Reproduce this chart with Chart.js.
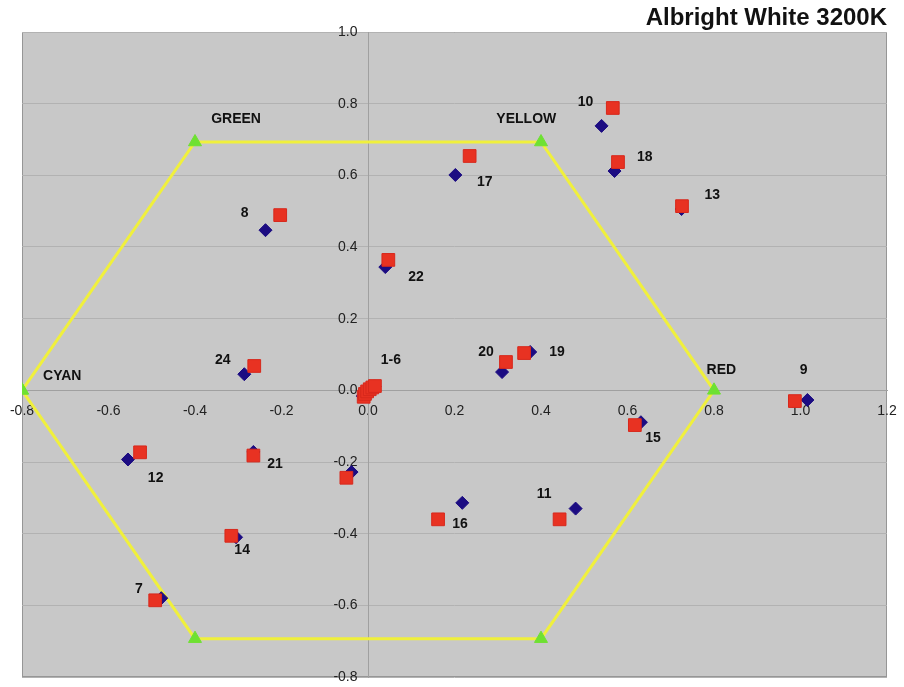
<!DOCTYPE html>
<html>
<head>
<meta charset="utf-8">
<script src="https://cdn.jsdelivr.net/npm/chart.js@4/dist/chart.umd.min.js"></script>
<style>
  html, body { margin: 0; padding: 0; background: #ffffff; }
  #wrap { width: 904px; height: 687px; }
</style>
</head>
<body>
<div id="wrap"><canvas id="c" width="904" height="687"></canvas></div>
<script>
// Sample numbers 1..24
const sampleIds = ['1','2','3','4','5','6','7','8','9','10','11','12','13','14','15','16','17','18','19','20','21','22','23','24'];

// Measured chromaticity (navy diamonds)
const measuredX = [-0.012,-0.006,-0.001,0.004,0.010,0.015,-0.478,-0.237,1.016,0.540,0.480,-0.555,0.725,-0.305,0.631,0.218,0.202,0.570,0.375,0.310,-0.265,0.040,-0.038,-0.286];
const measuredY = [-0.016,-0.008,-0.002,0.004,0.008,0.011,-0.580,0.447,-0.027,0.738,-0.330,-0.193,0.506,-0.410,-0.089,-0.314,0.601,0.612,0.107,0.051,-0.172,0.344,-0.228,0.045];

// Reference chromaticity (red squares)
const referenceX = [-0.010,-0.007,-0.002,0.004,0.010,0.016,-0.492,-0.203,0.987,0.566,0.443,-0.527,0.726,-0.316,0.617,0.162,0.235,0.578,0.361,0.319,-0.265,0.047,-0.050,-0.263];
const referenceY = [-0.018,-0.010,-0.003,0.003,0.008,0.012,-0.586,0.489,-0.030,0.788,-0.360,-0.173,0.514,-0.406,-0.097,-0.360,0.654,0.637,0.104,0.079,-0.182,0.364,-0.244,0.068];

// Gamut hexagon corners (closed path)
const hexX = [-0.8,-0.4,0.4,0.8,0.4,-0.4,-0.8];
const hexY = [0,0.693,0.693,0,-0.693,-0.693,0];

// Text annotations anchored in data units
const annotationText = ['GREEN','YELLOW','CYAN','RED','1-6','7','8','9','10','11','12','13','14','15','16','17','18','19','20','21','22','24'];
const annotationX = [-0.305,0.366,-0.707,0.817,0.053,-0.530,-0.285,1.007,0.503,0.407,-0.491,0.796,-0.291,0.659,0.213,0.270,0.640,0.437,0.273,-0.215,0.111,-0.336];
const annotationY = [0.757,0.757,0.040,0.057,0.085,-0.555,0.495,0.057,0.804,-0.290,-0.245,0.545,-0.446,-0.133,-0.373,0.581,0.651,0.107,0.107,-0.206,0.316,0.085];

// Axis ranges and tick step
const xRange = [-0.8, 1.2];
const yRange = [-0.8, 1.0];
const tickStep = 0.2;

const toPoints = (xs, ys) => xs.map((x, i) => ({ x: x, y: ys[i] }));

// Grey plotting area with a thin frame
const plotBackground = {
  id: 'plotBackground',
  beforeDraw(chart) {
    const { ctx, chartArea: a } = chart;
    ctx.save();
    ctx.fillStyle = 'rgb(200,200,200)';
    ctx.fillRect(a.left, a.top, a.right - a.left, a.bottom - a.top);
    ctx.strokeStyle = 'rgb(150,150,150)';
    ctx.lineWidth = 1;
    ctx.strokeRect(a.left + 0.5, a.top + 0.5, a.right - a.left - 1, a.bottom - a.top - 1);
    ctx.restore();
  }
};

// Bold text labels placed through the chart scales
const annotations = {
  id: 'annotations',
  afterDatasetsDraw(chart) {
    const { ctx, scales } = chart;
    ctx.save();
    ctx.font = 'bold 14px "Liberation Sans", Arial, sans-serif';
    ctx.fillStyle = '#111111';
    ctx.textAlign = 'center';
    ctx.textBaseline = 'middle';
    annotationText.forEach((t, i) => {
      ctx.fillText(t, scales.x.getPixelForValue(annotationX[i]), scales.y.getPixelForValue(annotationY[i]));
    });
    ctx.restore();
  }
};

new Chart(document.getElementById('c'), {
  type: 'scatter',
  data: {
    datasets: [
      {
        label: 'Reference',
        data: toPoints(referenceX, referenceY),
        pointStyle: 'rect',
        pointRadius: 9,
        backgroundColor: 'rgb(232,50,34)',
        borderColor: 'rgb(215,40,28)',
        borderWidth: 1,
        order: 1
      },
      {
        label: 'Measured',
        data: toPoints(measuredX, measuredY),
        pointStyle: 'rectRot',
        pointRadius: 6.5,
        backgroundColor: 'rgb(28,12,130)',
        borderColor: 'rgb(28,12,130)',
        borderWidth: 1,
        order: 2
      },
      {
        label: 'Gamut',
        data: toPoints(hexX, hexY),
        showLine: true,
        borderColor: 'rgb(240,240,60)',
        borderWidth: 3,
        pointStyle: 'triangle',
        pointRadius: 7.5,
        pointBackgroundColor: 'rgb(110,225,50)',
        pointBorderColor: 'rgb(110,225,50)',
        pointBorderWidth: 1,
        order: 3
      }
    ]
  },
  options: {
    responsive: false,
    animation: false,
    events: [],
    layout: { padding: { left: 22, right: 17, top: 0, bottom: 9 } },
    plugins: {
      legend: { display: false },
      tooltip: { enabled: false },
      title: {
        display: true,
        text: 'Albright White 3200K',
        align: 'end',
        color: '#111111',
        font: { family: '"Liberation Sans", Arial, sans-serif', size: 24, weight: 'bold', lineHeight: 1.0 },
        padding: { top: 6, bottom: 2 }
      }
    },
    scales: {
      x: {
        type: 'linear',
        position: { y: 0 },
        min: xRange[0],
        max: xRange[1],
        grid: { display: false, drawTicks: true, tickLength: 12 },
        border: { display: true, color: 'rgb(160,160,160)', width: 1 },
        ticks: {
          stepSize: tickStep,
          padding: 0,
          color: '#222222',
          font: { family: '"Liberation Sans", Arial, sans-serif', size: 14 },
          callback: v => Number(v).toFixed(1)
        }
      },
      y: {
        type: 'linear',
        position: { x: 0 },
        min: yRange[0],
        max: yRange[1],
        grid: { display: true, color: 'rgb(178,178,178)', lineWidth: 1, drawTicks: false },
        border: { display: true, color: 'rgb(160,160,160)', width: 1 },
        ticks: {
          stepSize: tickStep,
          padding: 0,
          color: '#222222',
          font: { family: '"Liberation Sans", Arial, sans-serif', size: 14 },
          // trailing gap keeps the right-aligned labels clear of the axis line
          callback: v => Number(v).toFixed(1) + '\u2002\u2005'
        }
      }
    }
  },
  plugins: [plotBackground, annotations]
});
</script>
</body>
</html>
